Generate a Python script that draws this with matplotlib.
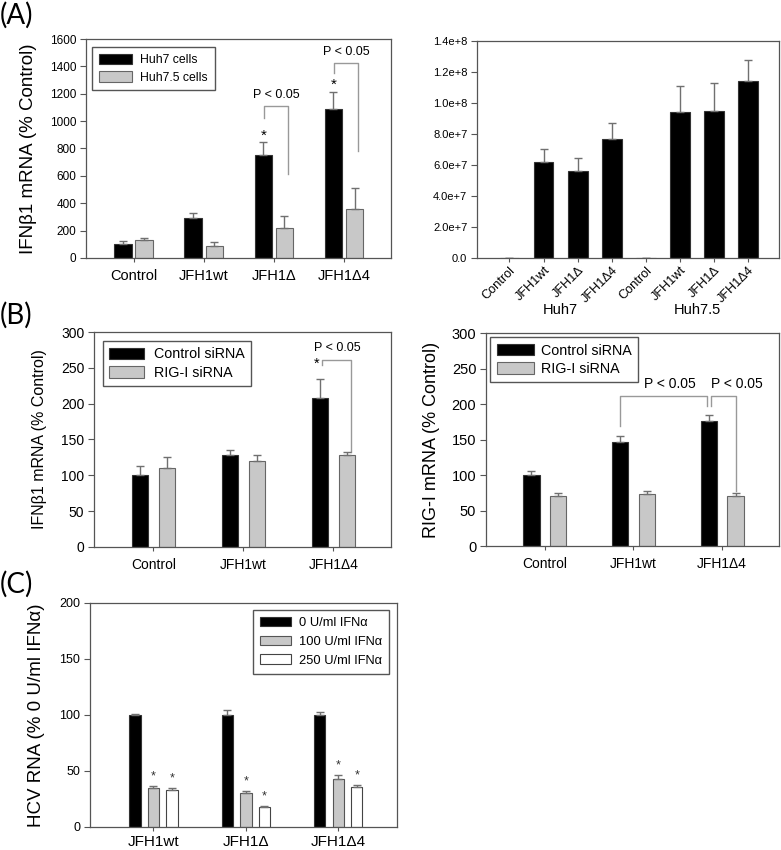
import numpy as np
import matplotlib
matplotlib.use("Agg")
import matplotlib.pyplot as plt

plt.rcParams['font.family'] = ['Liberation Sans', 'DejaVu Sans']

# ---- panel A, left: IFNb1 mRNA in Huh7 vs Huh7.5 ----
a_groups = ["Control", "JFH1wt", "JFH1\u0394", "JFH1\u03944"]
a_huh7 = [100, 290, 750, 1090]
a_huh7_err = [22, 38, 95, 125]
a_huh75 = [130, 85, 220, 355]
a_huh75_err = [15, 35, 90, 158]

# ---- panel A, right: HCV RNA copies ----
ar_labels = ["Control", "JFH1wt", "JFH1\u0394", "JFH1\u03944"] * 2
ar_values = [0, 6.2e7, 5.64e7, 7.67e7, 0, 9.43e7, 9.48e7, 1.139e8]
ar_err = [0, 0.82e7, 0.80e7, 1.01e7, 0, 1.64e7, 1.82e7, 1.41e7]
ar_cells = ["Huh7", "Huh7.5"]

# ---- panel B: siRNA knockdown ----
b_groups = ["Control", "JFH1wt", "JFH1\u03944"]
b_ifn_ctrl = [100, 129, 208]
b_ifn_ctrl_err = [13, 7, 26]
b_ifn_rig = [110, 120, 128]
b_ifn_rig_err = [15, 9, 4]
b_rig_ctrl = [100, 147, 176]
b_rig_ctrl_err = [5, 8, 9]
b_rig_rig = [71, 73, 71]
b_rig_rig_err = [3, 5, 4]

# ---- panel C: HCV RNA after IFNa ----
c_groups = ["JFH1wt", "JFH1\u0394", "JFH1\u03944"]
c_0 = [100, 100, 100]
c_0_err = [1, 4, 2.4]
c_100 = [35.2, 29.9, 42.7]
c_100_err = [1.5, 2.0, 3.3]
c_250 = [33.1, 18.2, 35.8]
c_250_err = [1.5, 0.4, 2.1]

SPINE = "#555555"
ERR = "#707070"
BRK = "#999999"
GRAY = "#c8c8c8"

fig = plt.figure(figsize=(7.81, 8.5), dpi=100)


def style_axes(ax, ysize, xsize):
    for s in ax.spines.values():
        s.set_color(SPINE)
        s.set_linewidth(0.9)
    ax.tick_params(axis='y', direction='out', length=4, width=0.8, color=SPINE,
                   labelsize=ysize, pad=3)
    ax.tick_params(axis='x', direction='out', length=3, width=0.8, color=SPINE,
                   labelsize=xsize, pad=5)


def err_kw(color=ERR):
    return dict(ecolor=color, elinewidth=1.0, capsize=3, capthick=1.0)


def up(err):
    return [np.zeros(len(err)), err]


def bracket(ax, x1, x2, y1, y2, ytop, text=None, tx=None, size=9):
    ax.plot([x1, x1, x2, x2], [y1, ytop, ytop, y2], color=BRK, lw=1.0, zorder=1)
    if text:
        ax.annotate(text, ((x1 + x2) / 2 if tx is None else tx, ytop),
                    xytext=(0, 4), textcoords='offset points', ha='center',
                    va='bottom', fontsize=size)


def legend(ax, loc, anchor, size, hl, hh, ls, htp=0.6, bp=0.5):
    ax.legend(loc=loc, bbox_to_anchor=anchor, borderaxespad=0, fontsize=size,
              frameon=True, fancybox=False, edgecolor=SPINE, framealpha=1,
              handlelength=hl, handleheight=hh, handletextpad=htp,
              borderpad=bp, labelspacing=ls)


# ================= (A) left =================
ax = fig.add_axes([0.1101, 0.6965, 0.3905, 0.2576])
x = np.arange(len(a_groups))
w, off = 0.25, 0.15
ax.bar(x - off, a_huh7, w, color='black', edgecolor='#333333', lw=0.8,
       yerr=up(a_huh7_err), error_kw=err_kw(), label="Huh7 cells")
ax.bar(x + off, a_huh75, w, color=GRAY, edgecolor='#666666', lw=0.8,
       yerr=up(a_huh75_err), error_kw=err_kw(), label="Huh7.5 cells")
ax.set_xlim(-0.68, 3.67)
ax.set_ylim(0, 1600)
ax.set_yticks(np.arange(0, 1601, 200))
ax.set_xticks(x)
ax.set_xticklabels(a_groups)
style_axes(ax, 8.5, 10.5)
ax.set_ylabel("IFN\u03b21 mRNA (% Control)", fontsize=13.5)
ax.yaxis.set_label_coords(-0.16, 0.5)
for i in (2, 3):
    ax.text(i - off, a_huh7[i] + a_huh7_err[i] + 50, "*", ha='center',
            va='center', fontsize=11)
bracket(ax, 2 - off + 0.01, 2 + off + 0.05, 1023, 616, 1108, "P < 0.05", size=9)
bracket(ax, 3 - off + 0.01, 3 + off + 0.05, 1351, 779, 1424, "P < 0.05", size=9)
legend(ax, 'upper left', (0.02, 0.963), 8.8, 2.7, 0.95, 0.4, htp=0.7, bp=0.55)

# ================= (A) right =================
ax = fig.add_axes([0.6108, 0.6965, 0.3867, 0.2553])
xr = np.arange(len(ar_values))
ax.bar(xr, ar_values, 0.58, color='black', edgecolor='#333333', lw=0.8,
       yerr=up(ar_err), error_kw=err_kw())
ax.set_xlim(-0.95, 7.9)
ax.set_ylim(0, 1.4e8)
yt = np.arange(0, 1.41e8, 2e7)
ax.set_yticks(yt)
ax.set_yticklabels(["0.0"] + ["%.1fe+%d" % (v / 10 ** int(np.floor(np.log10(v))),
                                            int(np.floor(np.log10(v)))) for v in yt[1:]])
ax.set_xticks(xr)
ax.set_xticklabels(ar_labels, rotation=45, ha='right', rotation_mode='anchor')
style_axes(ax, 8, 9.2)
ax.tick_params(axis='x', pad=1.5)
for k, name in enumerate(ar_cells):
    ax.text(1.5 + 4 * k, -0.24, name, transform=ax.get_xaxis_transform(),
            ha='center', va='center', fontsize=10.5)

# ================= (B) left =================
ax = fig.add_axes([0.1204, 0.3565, 0.3803, 0.2529])
xb = np.arange(len(b_groups))
w, off = 0.185, 0.15
ax.bar(xb - off, b_ifn_ctrl, w, color='black', edgecolor='#333333', lw=0.8,
       yerr=up(b_ifn_ctrl_err), error_kw=err_kw(), label="Control siRNA")
ax.bar(xb + off, b_ifn_rig, w, color=GRAY, edgecolor='#666666', lw=0.8,
       yerr=up(b_ifn_rig_err), error_kw=err_kw(), label="RIG-I siRNA")
ax.set_xlim(-0.66, 2.64)
ax.set_ylim(0, 300)
ax.set_yticks(np.arange(0, 301, 50))
ax.set_xticks(xb)
ax.set_xticklabels(b_groups)
style_axes(ax, 10, 10)
ax.set_ylabel("IFN\u03b21 mRNA (% Control)", fontsize=11.5)
ax.yaxis.set_label_coords(-0.16, 0.5)
ax.text(2 - off - 0.04, b_ifn_ctrl[2] + b_ifn_ctrl_err[2] + 22, "*", ha='center',
        va='center', fontsize=10.5)
bracket(ax, 2 - off + 0.025, 2 + off + 0.05, 254, 133, 261, "P < 0.05", size=9)
legend(ax, 'upper left', (0.03, 0.958), 10.3, 2.4, 0.85, 0.3, htp=0.7, bp=0.45)

# ================= (B) right =================
ax = fig.add_axes([0.6223, 0.3576, 0.3752, 0.2506])
ax.bar(xb - off, b_rig_ctrl, w, color='black', edgecolor='#333333', lw=0.8,
       yerr=up(b_rig_ctrl_err), error_kw=err_kw(), label="Control siRNA")
ax.bar(xb + off, b_rig_rig, w, color=GRAY, edgecolor='#666666', lw=0.8,
       yerr=up(b_rig_rig_err), error_kw=err_kw(), label="RIG-I siRNA")
ax.set_xlim(-0.66, 2.64)
ax.set_ylim(0, 300)
ax.set_yticks(np.arange(0, 301, 50))
ax.set_xticks(xb)
ax.set_xticklabels(b_groups)
style_axes(ax, 10.5, 10)
ax.set_ylabel("RIG-I mRNA (% Control)", fontsize=13)
ax.yaxis.set_label_coords(-0.157, 0.5)
bracket(ax, 1 - off, 2 - off - 0.02, 169, 197, 211, "P < 0.05", tx=1.41, size=10)
bracket(ax, 2 - off + 0.02, 2 + off, 197, 78, 211, "P < 0.05", tx=2.17, size=10)
legend(ax, 'upper left', (0.014, 0.981), 10.3, 2.6, 0.85, 0.3, htp=0.5, bp=0.45)

# ================= (C) =================
ax = fig.add_axes([0.1152, 0.0271, 0.3931, 0.2635])
xc = np.arange(len(c_groups))
w, off = 0.123, 0.2
ax.bar(xc - off, c_0, w, color='black', edgecolor='#333333', lw=0.8,
       yerr=up(c_0_err), error_kw=err_kw(), label="0 U/ml IFN\u03b1")
ax.bar(xc, c_100, w, color=GRAY, edgecolor='#555555', lw=0.8,
       yerr=up(c_100_err), error_kw=err_kw(), label="100 U/ml IFN\u03b1")
ax.bar(xc + off, c_250, w, color='white', edgecolor='#444444', lw=0.8,
       yerr=up(c_250_err), error_kw=err_kw(), label="250 U/ml IFN\u03b1")
for vals, errs, dx in ((c_100, c_100_err, 0), (c_250, c_250_err, off)):
    for i in range(len(c_groups)):
        ax.text(xc[i] + dx, vals[i] + errs[i] + 8.5, "*", ha='center',
                va='center', fontsize=9, color='#333333')
ax.set_xlim(-0.686, 2.635)
ax.set_ylim(0, 200)
ax.set_yticks(np.arange(0, 201, 50))
ax.set_xticks(xc)
ax.set_xticklabels(c_groups)
style_axes(ax, 9, 11)
ax.tick_params(axis='x', pad=3)
ax.set_ylabel("HCV RNA (% 0 U/ml IFN\u03b1)", fontsize=13.5)
ax.yaxis.set_label_coords(-0.147, 0.5)
legend(ax, 'upper right', (0.974, 0.969), 9.3, 2.4, 0.75, 0.5, htp=0.6, bp=0.55)

# panel letters
for lab, yy in (("(A)", 0.998), ("(B)", 0.645), ("(C)", 0.328)):
    fig.text(0.0, yy, lab, fontsize=20, family=['Lato', 'DejaVu Sans'],
             ha='left', va='top')

fig.savefig("out.png", dpi=100)
